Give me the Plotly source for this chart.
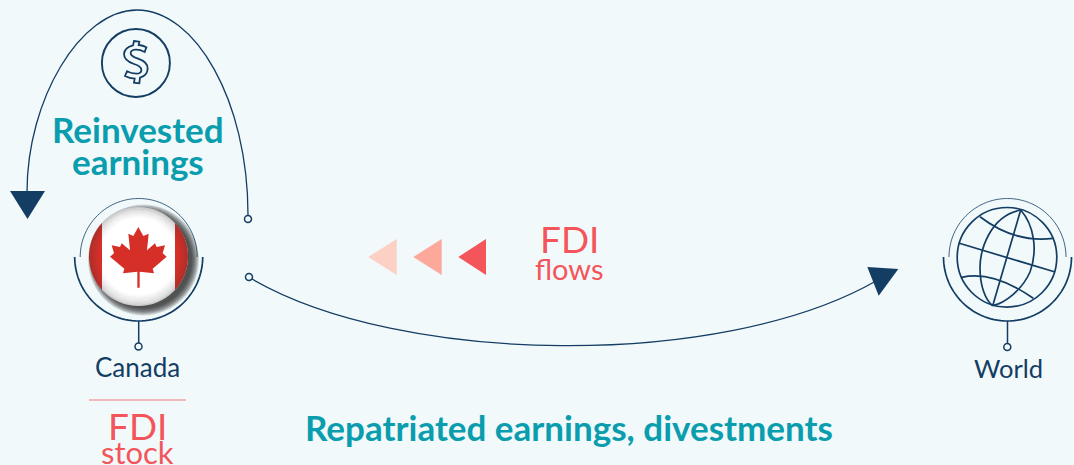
import math
import re
import plotly.graph_objects as go

WIDTH, HEIGHT = 1074, 465
BG = "#F1F9FB"
NAVY = "#143D63"
TEAL = "#0A9DAE"
RED = "#F4555A"
FLAG_RED = "#D62F28"
FONT = "Lato"

# Labels: text, x, y, size, colour, weight
label_texts = ["Reinvested", "earnings", "FDI", "flows", "Canada", "World", "FDI", "stock",
               "Repatriated earnings, divestments"]
label_x = [137.5, 138, 569, 569, 137.5, 1008, 137, 137, 569]
label_y = [128.5, 160.5, 238.5, 268, 367, 368, 425, 452, 427]
label_size = [35, 35, 37, 29, 26, 25.5, 37, 31, 35]
label_color = [TEAL, TEAL, RED, RED, NAVY, NAVY, RED, RED, TEAL]
label_weight = [700, 700, 400, 400, 400, 400, 400, 400, 700]

# Flow chevrons: tip x, base x, fill
chevron_tip = [368.3, 413.3, 458.3]
chevron_base = [396.7, 441.7, 486.0]
chevron_fill = ["#FDD0C6", "#FCA89B", RED]
chevron_mid, chevron_half = 257, 18

# Node centres: Canada, World
node_x = [138.7, 1007.5]
node_y = [257, 257]
ring_outer, ring_inner = 64, 58.5

# Connector paths
reinvest_arc = "M248,215 C248,100 195,10 137,10 C80,10 27,100 27,192"
repatriate_arc = "M252,279 C400,365 720,370 876,281"
arrow_left = "M10,191 L45,191 L27.5,219 Z"
arrow_right = "M867.3,267 L898.3,269 L878.7,295.7 Z"
open_dots = [(248, 219), (249, 277), (138.5, 346.5), (1007.3, 347)]

# Icons
dollar_circle = (135.9, 63, 34)
dollar_zoom = ("M108,45 L124,47 L122,57 Q135,58 145,64 L140,78 Q125,70 112,71 Q97,72 98,83 "
               "Q99,91 120,98 Q150,108 149,128 Q148,148 126,155 L124,172 L108,170 L110,158 "
               "Q95,157 81,150 L87,136 Q100,143 115,143 Q131,143 130,130 Q129,121 108,114 "
               "Q78,104 78,84 Q79,65 105,58 Z")
leaf_zoom = [(115,33),(130,60),(146,53),(141,103),(165,82),(170,93),(195,88),(188,112),(200,122),
             (158,158),(162,172),(119,167),(119,215),(112,215),(112,167),(69,172),(73,158),(30,122),
             (42,112),(35,88),(60,93),(65,82),(90,103),(85,53),(100,60)]
globe_lines = [
    "M959.3,243.3 L1054.3,271.7",
    "M1020.7,210 L992.7,305.7",
    "M1020.7,210 C990,216 980,250 980,268 C980,285 985,300 992.7,305.7",
    "M1020.7,210 C1034,225 1038,250 1030,272 C1022,290 1005,303 992.7,305.7",
    "M980,216.7 C1000,232 1025,242 1053.3,238.3",
    "M961.7,277.3 C985,272 1010,282 1033.3,298.3",
]
flag_center = (138.5, 256.5, 49.5)
flag_band_inner = 36.5


def circle(cx, cy, r, **kw):
    return dict(type="circle", x0=cx - r, x1=cx + r, y0=cy - r, y1=cy + r, **kw)


def path(d, **kw):
    return dict(type="path", path=d, **kw)


def arc_points(cx, cy, r, a0, a1, n=60):
    pts = []
    for i in range(n + 1):
        a = math.radians(a0 + (a1 - a0) * i / n)
        pts.append(f"{cx + r * math.cos(a):.2f},{cy + r * math.sin(a):.2f}")
    return pts


def arc_path(cx, cy, r, a0, a1, close=False):
    d = "M" + " L".join(arc_points(cx, cy, r, a0, a1))
    return d + " Z" if close else d


def convert(d, ox, oy):
    out = []
    for tok in re.findall(r"[A-Za-z]|[-\d.]+,[-\d.]+", d):
        if "," in tok:
            x, y = tok.split(",")
            out.append(f"{ox + float(x) / 3:.2f},{oy + float(y) / 3:.2f}")
        else:
            out.append(tok)
    return " ".join(out)


shapes = []
noline = dict(width=0)

# connectors
shapes.append(path(reinvest_arc, line=dict(color=NAVY, width=1.3)))
shapes.append(path(repatriate_arc, line=dict(color=NAVY, width=1.3)))
shapes.append(path(arrow_left, fillcolor=NAVY, line=noline))
shapes.append(path(arrow_right, fillcolor=NAVY, line=noline))

# rings, stems
for nx, ny in zip(node_x, node_y):
    shapes.append(path(arc_path(nx, ny, ring_outer, 180, 0), line=dict(color=NAVY, width=1.7)))
    shapes.append(path(arc_path(nx, ny, ring_inner, 180, 360), line=dict(color=NAVY, width=0.8)))
    shapes.append(dict(type="line", x0=nx, x1=nx, y0=ny + ring_outer, y1=ny + 87,
                       line=dict(color=NAVY, width=1.5)))
for dx, dy in open_dots:
    shapes.append(circle(dx, dy, 3.5, fillcolor=BG, line=dict(color=NAVY, width=1.5)))

# dollar icon
cx, cy, r = dollar_circle
shapes.append(circle(cx, cy, r, line=dict(color=NAVY, width=1.9)))
shapes.append(path(convert(dollar_zoom, 98, 26), line=dict(color=NAVY, width=1.8)))

# chevrons
for tip, base, fill in zip(chevron_tip, chevron_base, chevron_fill):
    shapes.append(path(f"M{tip},{chevron_mid} L{base},{chevron_mid-chevron_half} "
                       f"L{base},{chevron_mid+chevron_half} Z", fillcolor=fill, line=noline))

# flag: drop shadow, disc, bands, leaf, inner vignette
fx, fy, fr = flag_center
for i in range(10):
    rad = fr + 6 - i * 0.8
    shapes.append(circle(fx + 5, fy + 3.5, rad, fillcolor="#1E1E1E", opacity=0.13, line=noline))
shapes.append(circle(fx, fy, fr, fillcolor="white", line=noline))
ang = math.degrees(math.acos(flag_band_inner / fr))
shapes.append(path(arc_path(fx, fy, fr, 180 - ang, 180 + ang, close=True), fillcolor=FLAG_RED, line=noline))
shapes.append(path(arc_path(fx, fy, fr, -ang, ang, close=True), fillcolor=FLAG_RED, line=noline))
leaf = "M" + " L".join(f"{100 + x / 3:.2f},{216 + y / 3:.2f}" for x, y in leaf_zoom) + " Z"
shapes.append(path(leaf, fillcolor=FLAG_RED, line=noline))
for i in range(10):
    rad = fr - 0.4 - i * 1.1
    shapes.append(circle(fx, fy, rad, line=dict(color="#333333", width=1.3), opacity=0.22 * (1 - i / 10) ** 1.5))

# globe
shapes.append(circle(1007, 257.3, 49.8, line=dict(color=NAVY, width=1.7)))
for d in globe_lines:
    shapes.append(path(d, line=dict(color=NAVY, width=1.7)))

# separator
shapes.append(dict(type="line", x0=89, x1=186, y0=400, y1=400, line=dict(color="#F47A7E", width=1.2)))

annotations = [
    dict(x=x, y=y, text=t, showarrow=False, xanchor="center", yanchor="middle",
         font=dict(family=FONT, size=s, color=c, weight=w))
    for t, x, y, s, c, w in zip(label_texts, label_x, label_y, label_size, label_color, label_weight)
]

fig = go.Figure()
fig.update_layout(
    width=WIDTH, height=HEIGHT, margin=dict(l=0, r=0, t=0, b=0),
    paper_bgcolor=BG, plot_bgcolor=BG, showlegend=False,
    xaxis=dict(range=[0, WIDTH], visible=False, fixedrange=True),
    yaxis=dict(range=[HEIGHT, 0], visible=False, fixedrange=True),
    shapes=shapes, annotations=annotations,
)
fig.write_html("out.html", config=dict(displayModeBar=False),
               post_script="document.body.style.margin='0';document.body.style.overflow='hidden';")
